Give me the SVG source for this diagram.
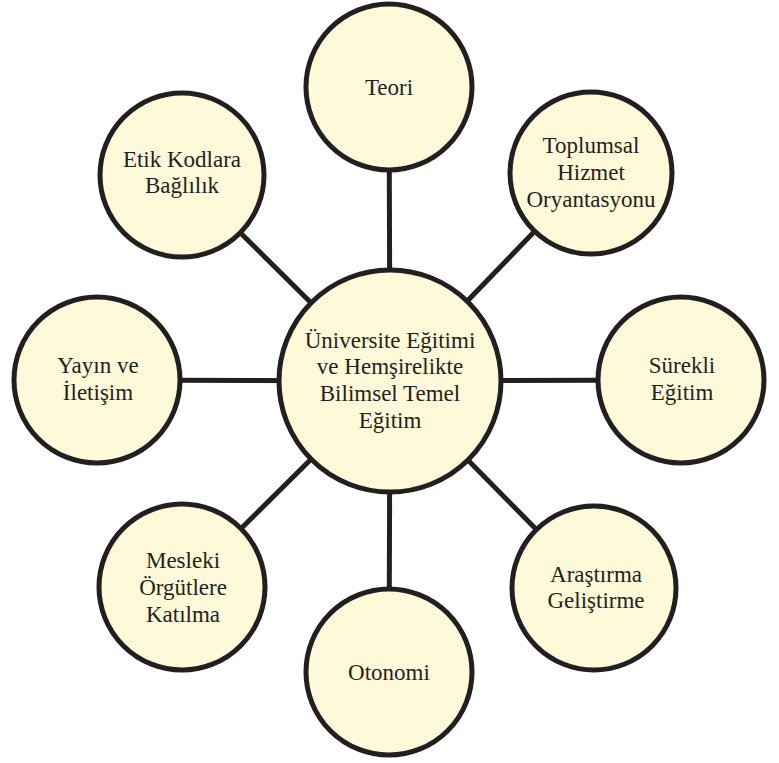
<svg xmlns="http://www.w3.org/2000/svg" width="779" height="763" viewBox="0 0 779 763">
<style>
.n{fill:#FEF9D8;stroke:#231F20;stroke-width:5}
.c line{stroke:#231F20;stroke-width:5}
text{font-family:Tinos,serif;font-size:23px;fill:#231F20;text-anchor:middle}
</style>
<rect width="779" height="763" fill="#fff"/>
<g class="c" id="connectors">
<line x1="390" y1="381" x2="389" y2="87"/>
<line x1="390" y1="381" x2="591" y2="173"/>
<line x1="390" y1="381" x2="681" y2="380"/>
<line x1="390" y1="381" x2="594" y2="588"/>
<line x1="390" y1="381" x2="389" y2="672"/>
<line x1="390" y1="381" x2="182" y2="587"/>
<line x1="390" y1="381" x2="97" y2="380"/>
<line x1="390" y1="381" x2="182" y2="175"/>
</g>
<g id="center"><circle class="n" cx="390" cy="381" r="111"/>
<text x="390" y="348">Üniversite Eğitimi</text><text x="390" y="374">ve Hemşirelikte</text><text x="390" y="401">Bilimsel Temel</text><text x="390" y="428">Eğitim</text></g>
<g id="teori"><circle class="n" cx="389" cy="87" r="83"/><text x="389" y="95">Teori</text></g>
<g id="toplumsal"><circle class="n" cx="591" cy="173" r="81"/><text x="591" y="153">Toplumsal</text><text x="591" y="180">Hizmet</text><text x="591" y="207">Oryantasyonu</text></g>
<g id="surekli"><circle class="n" cx="681" cy="380" r="83"/><text x="682" y="373">Sürekli</text><text x="682" y="400">Eğitim</text></g>
<g id="arastirma"><circle class="n" cx="594" cy="588" r="82"/><text x="596" y="582">Araştırma</text><text x="596" y="608">Geliştirme</text></g>
<g id="otonomi"><circle class="n" cx="389" cy="672" r="83"/><text x="389" y="680">Otonomi</text></g>
<g id="mesleki"><circle class="n" cx="182" cy="587" r="83"/><text x="183" y="568">Mesleki</text><text x="183" y="595">Örgütlere</text><text x="183" y="622">Katılma</text></g>
<g id="yayin"><circle class="n" cx="97" cy="380" r="83"/><text x="98" y="373">Yayın ve</text><text x="98" y="400">İletişim</text></g>
<g id="etik"><circle class="n" cx="182" cy="175" r="82"/><text x="182" y="167">Etik Kodlara</text><text x="182" y="193">Bağlılık</text></g>
</svg>
